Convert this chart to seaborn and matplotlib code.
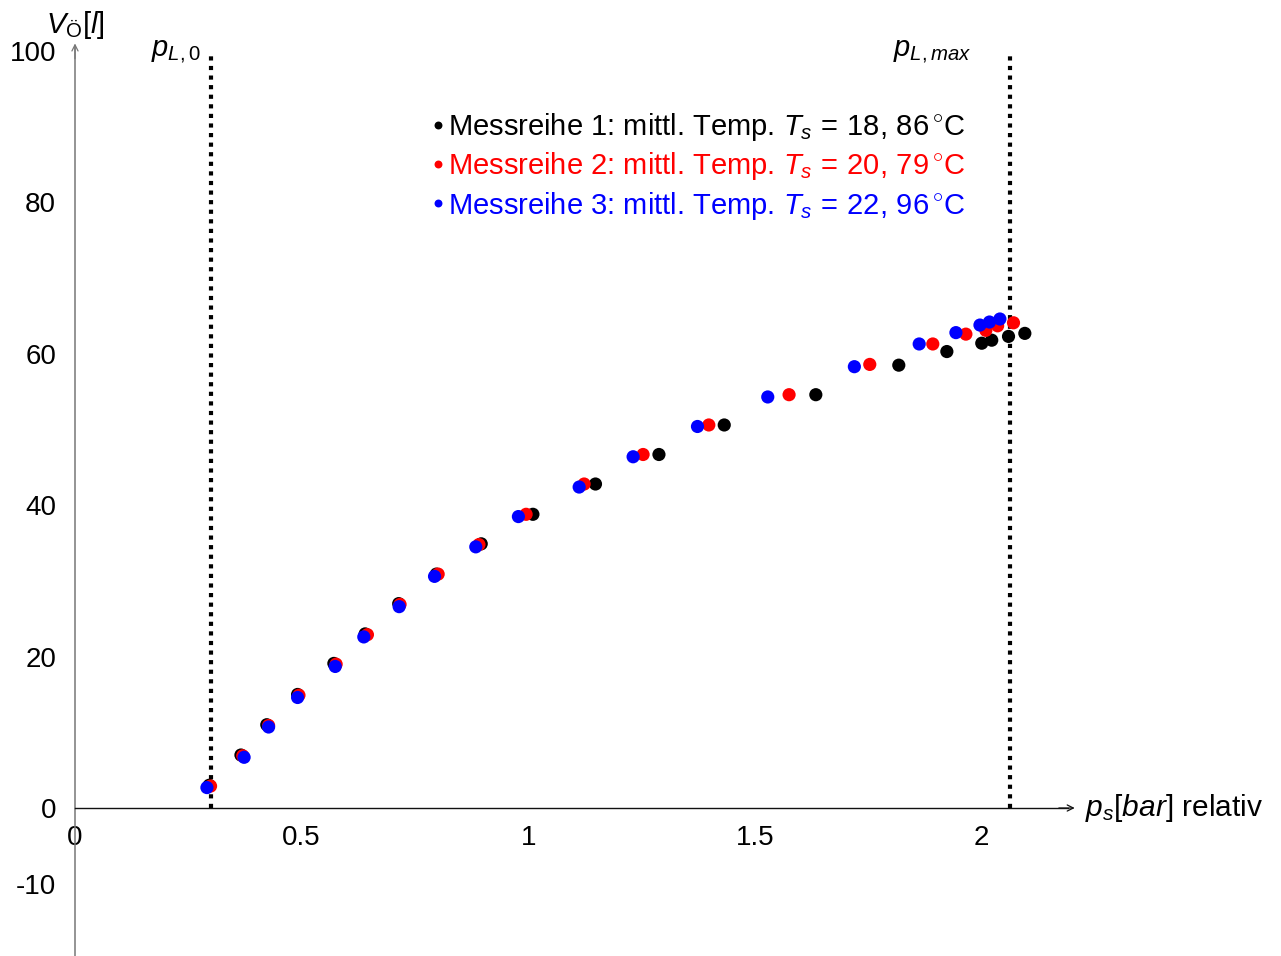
import numpy as np
import pandas as pd
import matplotlib
matplotlib.use("Agg")
import matplotlib.pyplot as plt
import seaborn as sns

# ---- data ----
p_reihe1 = [0.296, 0.366, 0.423, 0.491, 0.571, 0.640, 0.714, 0.797, 0.896, 1.010,
            1.148, 1.288, 1.432, 1.634, 1.817, 1.923, 2.000, 2.022, 2.059, 2.095]
V_reihe1 = [3.0, 7.0, 11.0, 15.0, 19.1, 23.0, 27.0, 30.9, 34.9, 38.8,
            42.8, 46.7, 50.6, 54.6, 58.5, 60.3, 61.4, 61.8, 62.3, 62.7]
p_reihe2 = [0.299, 0.370, 0.427, 0.494, 0.576, 0.645, 0.717, 0.801, 0.891, 0.995,
            1.123, 1.253, 1.398, 1.575, 1.753, 1.892, 1.965, 2.009, 2.035, 2.070]
V_reihe2 = [2.9, 6.9, 10.9, 14.9, 19.0, 22.9, 26.9, 30.9, 34.8, 38.8,
            42.8, 46.7, 50.6, 54.6, 58.6, 61.3, 62.6, 63.1, 63.7, 64.1]
p_reihe3 = [0.291, 0.373, 0.427, 0.491, 0.574, 0.637, 0.715, 0.793, 0.884, 0.978,
            1.112, 1.231, 1.373, 1.528, 1.719, 1.862, 1.943, 1.996, 2.017, 2.040]
V_reihe3 = [2.7, 6.7, 10.7, 14.6, 18.7, 22.6, 26.6, 30.6, 34.5, 38.5,
            42.4, 46.4, 50.4, 54.3, 58.3, 61.3, 62.8, 63.8, 64.2, 64.6]

labels = [r"Messreihe 1: mittl. Temp. $T_s\,=\,18,\,86\,^{\circ}\mathrm{C}$",
          r"Messreihe 2: mittl. Temp. $T_s\,=\,20,\,79\,^{\circ}\mathrm{C}$",
          r"Messreihe 3: mittl. Temp. $T_s\,=\,22,\,96\,^{\circ}\mathrm{C}$"]
colors = ["black", "#ff0000", "#0000ff"]
p_limits = [0.30, 2.062]
p_limit_labels = [r"$p_{L,0}$", r"$p_{L,max}$"]
x_ticks = [0, 0.5, 1, 1.5, 2]
x_ticklabels = ["0", "0.5", "1", "1.5", "2"]
y_ticks = [-10, 0, 20, 40, 60, 80, 100]
y_ticklabels = ["-10", "0", "20", "40", "60", "80", "100"]

df = pd.concat([
    pd.DataFrame({"p": p_reihe1, "V": V_reihe1, "Reihe": labels[0]}),
    pd.DataFrame({"p": p_reihe2, "V": V_reihe2, "Reihe": labels[1]}),
    pd.DataFrame({"p": p_reihe3, "V": V_reihe3, "Reihe": labels[2]}),
], ignore_index=True)

sns.set_style("white")
plt.rcParams["font.family"] = ["Liberation Sans", "DejaVu Sans"]
plt.rcParams["mathtext.fontset"] = "custom"
plt.rcParams["mathtext.rm"] = "Liberation Sans"
plt.rcParams["mathtext.it"] = "Liberation Sans:italic"
plt.rcParams["mathtext.bf"] = "Liberation Sans:bold"
plt.rcParams["text.color"] = "black"
plt.rcParams["xtick.labelcolor"] = "black"
plt.rcParams["ytick.labelcolor"] = "black"

fig = plt.figure(figsize=(12.81, 9.56), dpi=100)
ax = fig.add_axes([0, 0, 1, 1])
ax.set_xlim(-0.1654, 2.660)
ax.set_ylim(-19.55, 106.74)

sns.scatterplot(data=df, x="p", y="V", hue="Reihe", hue_order=labels,
                palette=dict(zip(labels, colors)), s=90, edgecolor="none",
                linewidth=0, ax=ax, zorder=3, legend=True)

# limit lines
ax.vlines(p_limits, 0, 100, colors="black", linewidth=3.0,
          linestyles=[(0, (1, 1.3))], zorder=2)
ax.text(p_limits[0] - 0.023, 99.9, p_limit_labels[0], ha="right", va="center", fontsize=21)
ax.text(p_limits[1] - 0.085, 99.9, p_limit_labels[1], ha="right", va="center", fontsize=21)

# axes / spines
for s in ["top", "right"]:
    ax.spines[s].set_visible(False)
ax.spines["left"].set_position(("data", 0))
ax.spines["bottom"].set_position(("data", 0))
ax.spines["left"].set_bounds(-19.55, 100.6)
ax.spines["bottom"].set_bounds(0, 2.19)
ax.spines["left"].set_color("#777777")
ax.spines["left"].set_linewidth(1.1)
ax.spines["bottom"].set_color("#111111")
ax.spines["bottom"].set_linewidth(1.0)
ax.annotate("", xy=(2.205, 0), xytext=(2.17, 0),
            arrowprops=dict(arrowstyle="->", lw=0.9, color="#111111",
                            shrinkA=0, shrinkB=0, mutation_scale=11))
ax.annotate("", xy=(0, 101.0), xytext=(0, 99.0),
            arrowprops=dict(arrowstyle="->", lw=0.9, color="#777777",
                            shrinkA=0, shrinkB=0, mutation_scale=11))

ax.set_xticks(x_ticks)
ax.set_xticklabels(x_ticklabels)
ax.set_yticks(y_ticks)
ax.set_yticklabels(y_ticklabels)
ax.tick_params(axis="x", direction="out", length=6, width=0.8, color="#555555",
               pad=6, labelsize=20)
ax.tick_params(axis="y", direction="inout", length=9, width=0.8, color="#555555",
               pad=9, labelsize=20)
ax.set_xlabel("")
ax.set_ylabel("")

ax.text(2.228, 0, r"$p_s[bar]$ relativ", ha="left", va="center", fontsize=21.5)
ax.text(0, 103.4, r"$V_{\mathrm{Ö}}[l]$", ha="center", va="center", fontsize=21)

# legend
handles, lbls = ax.get_legend_handles_labels()
leg = ax.legend(handles, lbls, loc="upper left", bbox_to_anchor=(428 / 1281, 1 - 111 / 956),
                frameon=False, handletextpad=0.0, handlelength=0.7, markerscale=0.6,
                borderpad=0, borderaxespad=0, labelspacing=0.25, fontsize=21,
                labelcolor=colors)

fig.savefig("out.png", dpi=100)
